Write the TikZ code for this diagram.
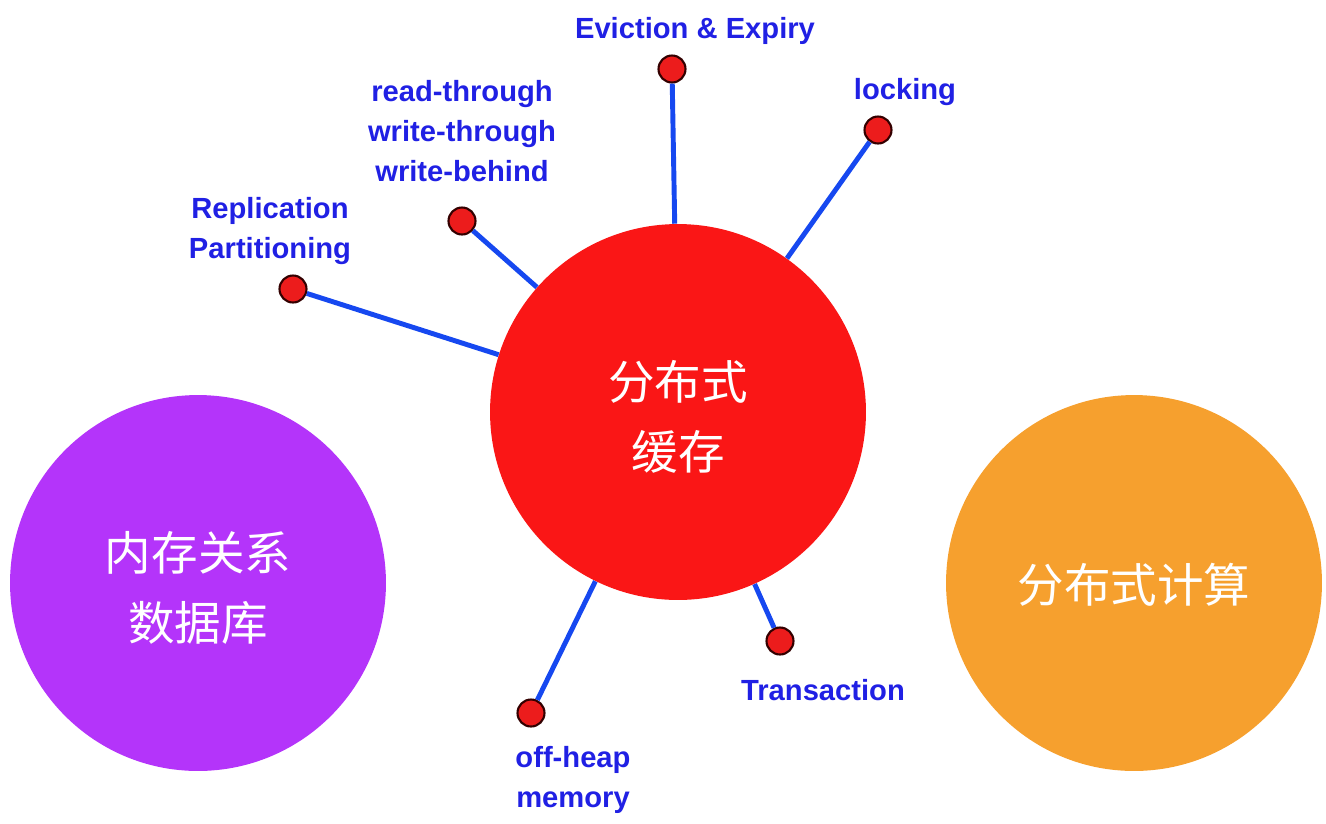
\documentclass[tikz,border=0pt]{standalone}
\usepackage{fontspec}
\setmainfont{Liberation Sans}
\newfontfamily\cjk{Noto Sans CJK SC}
\usepackage{tikz}

\definecolor{cachered}{RGB}{250,22,22}
\definecolor{dbpurple}{RGB}{180,52,250}
\definecolor{calcorange}{RGB}{246,160,46}
\definecolor{spokeblue}{RGB}{22,72,240}
\definecolor{labelblue}{RGB}{32,32,228}
\definecolor{dotred}{RGB}{236,28,28}

\tikzset{
    bigcircle/.style={circle,minimum size=7.52cm,inner sep=0pt},
    circletext/.style={text=white,align=center,yshift=-0.1cm,
        font=\cjk\fontsize{26.5}{40}\selectfont},
    enddot/.style={circle,fill=dotred,draw=black!80!red,line width=1.2pt,
        minimum size=0.54cm,inner sep=0pt},
    spoke/.style={spokeblue,line width=2.8pt},
    topic/.style={text=labelblue,align=center,
        font=\bfseries\fontsize{16.6}{22.8}\selectfont}
}

\begin{document}
\begin{tikzpicture}[x=0.02cm,y=-0.02cm]
        \useasboundingbox (0,0) rectangle (1326,823);

        % Circles
        \node [bigcircle,fill=cachered,
            label={[circletext]center:分布式\\缓存}] (cache) at (678,412) {};
        \node [bigcircle,fill=dbpurple,
            label={[circletext]center:内存关系\\数据库}] (memdb) at (198,583) {};
        \node [bigcircle,fill=calcorange,
            label={[circletext,yshift=0.06cm]center:分布式计算}] (calc) at (1134,583) {};

        % End dots
        \node [enddot] (repl) at (293,289) {};
        \node [enddot] (rw) at (462,221) {};
        \node [enddot] (evict) at (672,69) {};
        \node [enddot] (lock) at (878,130) {};
        \node [enddot] (trans) at (780,641) {};
        \node [enddot] (offheap) at (531,713) {};

        % Spokes
        \draw [spoke] (repl) -- (cache);
        \draw [spoke] (rw) -- (cache);
        \draw [spoke] (evict) -- (cache);
        \draw [spoke] (lock) -- (cache);
        \draw [spoke] (trans) -- (cache);
        \draw [spoke] (offheap) -- (cache);

        % Labels
        \node [topic] (repltext) at (270,231) {Replication\\Partitioning};
        \node [topic] (rwtext) at (462,131)
            {read-through\\write-through\\write-behind};
        \node [topic] (evicttext) at (695,31) {Eviction \& Expiry};
        \node [topic] (locktext) at (905,92) {locking};
        \node [topic] (transtext) at (823,690) {Transaction};
        \node [topic] (offheaptext) at (573,780) {off-heap\\memory};
    \end{tikzpicture}
\end{document}
